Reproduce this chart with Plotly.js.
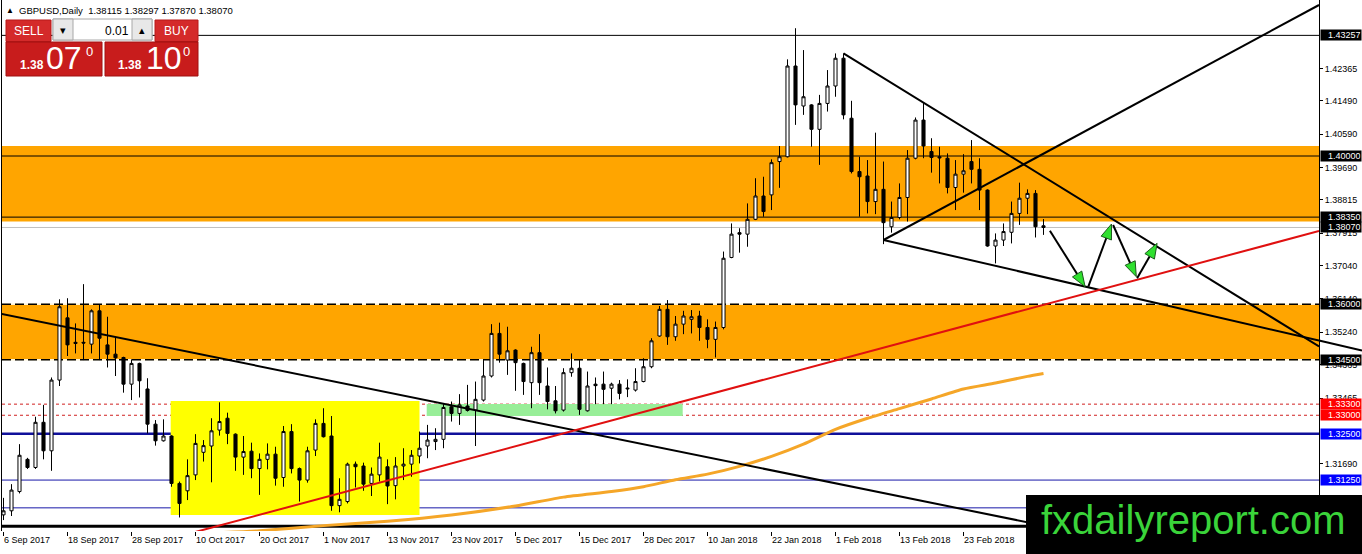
<!DOCTYPE html>
<html><head><meta charset="utf-8">
<script src="https://cdn.plot.ly/plotly-3.0.1.min.js"></script>
<style>html,body{margin:0;padding:0;background:#fff;overflow:hidden}#chart{width:1362px;height:554px}</style>
</head><body><div id="chart"></div>
<script>
// ---------- DATA ----------
const dates = [
"2017-09-06","2017-09-07","2017-09-08","2017-09-11","2017-09-12","2017-09-13","2017-09-14","2017-09-15","2017-09-18","2017-09-19",
"2017-09-20","2017-09-21","2017-09-22","2017-09-25","2017-09-26","2017-09-27","2017-09-28","2017-09-29","2017-10-02","2017-10-03",
"2017-10-04","2017-10-05","2017-10-06","2017-10-09","2017-10-10","2017-10-11","2017-10-12","2017-10-13","2017-10-16","2017-10-17",
"2017-10-18","2017-10-19","2017-10-20","2017-10-23","2017-10-24","2017-10-25","2017-10-26","2017-10-27","2017-10-30","2017-10-31",
"2017-11-01","2017-11-02","2017-11-03","2017-11-06","2017-11-07","2017-11-08","2017-11-09","2017-11-10","2017-11-13","2017-11-14",
"2017-11-15","2017-11-16","2017-11-17","2017-11-20","2017-11-21","2017-11-22","2017-11-23","2017-11-24","2017-11-27","2017-11-28",
"2017-11-29","2017-11-30","2017-12-01","2017-12-04","2017-12-05","2017-12-06","2017-12-07","2017-12-08","2017-12-11","2017-12-12",
"2017-12-13","2017-12-14","2017-12-15","2017-12-18","2017-12-19","2017-12-20","2017-12-21","2017-12-22","2017-12-26","2017-12-27",
"2017-12-28","2017-12-29","2018-01-02","2018-01-03","2018-01-04","2018-01-05","2018-01-08","2018-01-09","2018-01-10","2018-01-11",
"2018-01-12","2018-01-15","2018-01-16","2018-01-17","2018-01-18","2018-01-19","2018-01-22","2018-01-23","2018-01-24","2018-01-25",
"2018-01-26","2018-01-29","2018-01-30","2018-01-31","2018-02-01","2018-02-02","2018-02-05","2018-02-06","2018-02-07","2018-02-08",
"2018-02-09","2018-02-12","2018-02-13","2018-02-14","2018-02-15","2018-02-16","2018-02-19","2018-02-20","2018-02-21","2018-02-22",
"2018-02-23","2018-02-26","2018-02-27","2018-02-28","2018-03-01","2018-03-02","2018-03-05","2018-03-06","2018-03-07","2018-03-08",
"2018-03-09"];

const openP = [
1.3031,1.3042,1.3094,1.3181,1.3159,1.3281,1.3204,1.3395,1.3563,1.3497,
1.3497,1.3492,1.3582,1.3490,1.3465,1.3456,1.3384,1.3440,1.3371,1.3276,
1.3231,1.3244,1.3116,1.3096,1.3139,1.3200,1.3217,1.3260,1.3292,1.3249,
1.3187,1.3203,1.3156,1.3181,1.3195,1.3132,1.3256,1.3156,1.3125,1.3206,
1.3278,1.3244,1.3056,1.3067,1.3168,1.3163,1.3116,1.3139,1.3161,1.3110,
1.3163,1.3168,1.3190,1.3217,1.3229,1.3235,1.3323,1.3305,1.3325,1.3314,
1.3341,1.3406,1.3521,1.3449,1.3476,1.3440,1.3388,1.3469,1.3379,1.3339,
1.3314,1.3415,1.3427,1.3312,1.3384,1.3384,1.3373,1.3384,1.3371,1.3368,
1.3391,1.3431,1.3514,1.3586,1.3512,1.3546,1.3559,1.3568,1.3537,1.3505,
1.3537,1.3726,1.3793,1.3789,1.3829,1.3892,1.3895,1.3985,1.3998,1.4243,
1.4135,1.4138,1.4072,1.4142,1.4189,1.4264,1.4102,1.3958,1.3946,1.3877,
1.3910,1.3809,1.3834,1.3888,1.3994,1.4097,1.4012,1.3998,1.3994,1.3915,
1.3951,1.3985,1.3964,1.3908,1.3757,1.3773,1.3794,1.3845,1.3886,1.3899,
1.38115];
const highP = [
1.3077,1.3114,1.3222,1.3185,1.3296,1.3328,1.3402,1.3613,1.3616,1.3548,
1.3654,1.3586,1.3598,1.3566,1.3512,1.3458,1.3451,1.3442,1.3400,1.3287,
1.3289,1.3246,1.3121,1.3181,1.3249,1.3233,1.3292,1.3335,1.3307,1.3251,
1.3244,1.3226,1.3197,1.3224,1.3215,1.3271,1.3276,1.3159,1.3215,1.3289,
1.3319,1.3298,1.3130,1.3172,1.3175,1.3172,1.3159,1.3226,1.3181,1.3187,
1.3211,1.3206,1.3256,1.3274,1.3265,1.3330,1.3337,1.3357,1.3382,1.3391,
1.3449,1.3546,1.3550,1.3539,1.3478,1.3442,1.3485,1.3519,1.3429,1.3379,
1.3427,1.3467,1.3449,1.3418,1.3402,1.3418,1.3388,1.3395,1.3397,1.3427,
1.3454,1.3508,1.3595,1.3611,1.3568,1.3582,1.3584,1.3582,1.3559,1.3553,
1.3742,1.3818,1.3805,1.3872,1.3940,1.3944,1.3991,1.4027,1.4261,1.4345,
1.4286,1.4140,1.4165,1.4232,1.4277,1.4277,1.4149,1.3998,1.3989,1.4063,
1.3985,1.3877,1.3926,1.4016,1.4104,1.4144,1.4048,1.4025,1.4007,1.3989,
1.4005,1.4043,1.3994,1.3910,1.3791,1.3818,1.3877,1.3928,1.3910,1.3908,
1.38297];
const lowP = [
1.3017,1.3028,1.3089,1.3155,1.3155,1.3181,1.3150,1.3379,1.3460,1.3467,
1.3449,1.3467,1.3449,1.3429,1.3406,1.3361,1.3341,1.3348,1.3251,1.3218,
1.3229,1.3107,1.3024,1.3071,1.3125,1.3175,1.3119,1.3245,1.3222,1.3150,
1.3139,1.3130,1.3085,1.3154,1.3110,1.3107,1.3143,1.3067,1.3118,1.3190,
1.3240,1.3042,1.3038,1.3062,1.3105,1.3096,1.3082,1.3121,1.3060,1.3073,
1.3125,1.3134,1.3170,1.3184,1.3206,1.3211,1.3283,1.3274,1.3310,1.3217,
1.3337,1.3402,1.3442,1.3409,1.3366,1.3355,1.3319,1.3355,1.3316,1.3305,
1.3310,1.3404,1.3301,1.3310,1.3330,1.3330,1.3330,1.3343,1.3349,1.3364,
1.3389,1.3427,1.3512,1.3490,1.3501,1.3519,1.3521,1.3501,1.3481,1.3456,
1.3532,1.3724,1.3739,1.3755,1.3827,1.3836,1.3854,1.3914,1.3996,1.4084,
1.4111,1.4025,1.3976,1.4120,1.4160,1.4099,1.3953,1.3836,1.3845,1.3843,
1.3762,1.3793,1.3829,1.3823,1.3991,1.3994,1.3955,1.3926,1.3899,1.3854,
1.3901,1.3926,1.3854,1.3755,1.3710,1.3757,1.3764,1.3814,1.3843,1.3780,
1.37870];
const closeP = [
1.3042,1.3098,1.3192,1.3159,1.3281,1.3204,1.3395,1.3593,1.3490,1.3494,
1.3495,1.3582,1.3508,1.3465,1.3455,1.3384,1.3440,1.3393,1.3276,1.3231,
1.3244,1.3116,1.3062,1.3137,1.3224,1.3218,1.3258,1.3283,1.3251,1.3187,
1.3202,1.3156,1.3181,1.3195,1.3130,1.3256,1.3156,1.3125,1.3204,1.3278,
1.3242,1.3056,1.3073,1.3168,1.3161,1.3114,1.3141,1.3187,1.3109,1.3163,
1.3168,1.3192,1.3211,1.3233,1.3235,1.3321,1.3305,1.3328,1.3313,1.3343,
1.3406,1.3521,1.3465,1.3474,1.3442,1.3391,1.3469,1.3388,1.3337,1.3312,
1.3415,1.3427,1.3316,1.3379,1.3380,1.3370,1.3384,1.3359,1.3373,1.3391,
1.3431,1.3501,1.3586,1.3512,1.3546,1.3568,1.3566,1.3537,1.3505,1.3537,
1.3724,1.3789,1.3789,1.3829,1.3892,1.3850,1.3982,1.3998,1.4243,1.4138,
1.4160,1.4072,1.4142,1.4189,1.4264,1.4111,1.3958,1.3944,1.3877,1.3910,
1.3820,1.3834,1.3888,1.3994,1.4097,1.4027,1.3996,1.3995,1.3915,1.3951,
1.3960,1.3964,1.3908,1.3757,1.3773,1.3796,1.3845,1.3886,1.3899,1.3809,
1.38070];

// moving average (bar index, value)
const maIdx = [27,32,40,48,56,64,70,76,80,84,88,92,96,100,104,108,112,116,120,124,128,130];
const maVal = [1.2983,1.2988,1.3002,1.3014,1.3031,1.3055,1.3079,1.3094,1.3107,1.3126,1.3141,1.3162,1.3189,1.3222,1.3262,1.3292,1.3318,1.3344,1.3371,1.3387,1.3405,1.3413];

const xTickIdx = [0,8,16,24,32,40,48,56,64,72,80,88,96,104,112,120];
const xTickText = ["6 Sep 2017","18 Sep 2017","28 Sep 2017","10 Oct 2017","20 Oct 2017","1 Nov 2017","13 Nov 2017","23 Nov 2017","5 Dec 2017","15 Dec 2017","28 Dec 2017","10 Jan 2018","22 Jan 2018","1 Feb 2018","13 Feb 2018","23 Feb 2018"];
const yTicks = [1.42365,1.41490,1.40590,1.39690,1.38815,1.37915,1.37040,1.36140,1.35240,1.34365,1.33465,1.31690];

// price levels and their scale labels
const levelPrices = [1.43257,1.40000,1.38350,1.38070,1.36000,1.34500,1.33300,1.33000,1.32500,1.31250,1.30500,1.30000];
const labelPrices = [1.43257,1.40000,1.38350,1.38070,1.36000,1.34500,1.33300,1.33000,1.32500,1.31250];
const labelKinds  = ["k","k","k","k","k","k","r","r","b","b"];

// zones
const upperZone = [1.3823,1.4027];
const lowerZone = [1.3450,1.3600];
const yellowBox = {i:[20.9,52.0], p:[1.30307,1.33385]};
const greenBox  = {i:[52.9,84.9], p:[1.3298,1.33304]};

// trend lines: [i0,p0,i1,p1]
const trendLines = [
  [-0.4375,1.35745,140,1.29583],
  [105,1.42773,164.44,1.34857],
  [110,1.37732,164.44,1.44077],
  [110,1.37732,164.44,1.35016]
];
const redLine = [22.81,1.29781,164.44,1.37975];
const arrows = [
  [130.8,1.37983,135.2,1.36471],
  [135.6,1.36471,138.5,1.38164],
  [138.7,1.38137,141.6,1.36741],
  [141.7,1.36697,144.2,1.37642]
];
const header = "GBPUSD,Daily  1.38115 1.38297 1.37870 1.38070";

// ---------- GEOMETRY ----------
const L=2,T=0,W=1317,H=531;
const xRange=[-0.1875,164.4375], yRange=[1.29875,1.44212];
const pxX=i=>L+(i-xRange[0])/(xRange[1]-xRange[0])*W;
const pxY=p=>T+(yRange[1]-p)/(yRange[1]-yRange[0])*H;
const paX=px=>(px-L)/W;
const paY=py=>1-(py-T)/H;
const FONT="Liberation Sans, Arial, sans-serif";

const shapes=[];
const ann=[];

// zones (background)
shapes.push({type:'rect',xref:'paper',x0:0,x1:1,yref:'y',y0:upperZone[0],y1:upperZone[1],fillcolor:'#ffa500',line:{width:0},layer:'below'});
shapes.push({type:'rect',xref:'paper',x0:0,x1:1,yref:'y',y0:lowerZone[0],y1:lowerZone[1],fillcolor:'#ffa500',line:{width:0},layer:'below'});
shapes.push({type:'rect',xref:'x',x0:yellowBox.i[0],x1:yellowBox.i[1],yref:'y',y0:yellowBox.p[0],y1:yellowBox.p[1],fillcolor:'#ffff00',line:{width:0},layer:'below'});
shapes.push({type:'rect',xref:'x',x0:greenBox.i[0],x1:greenBox.i[1],yref:'y',y0:greenBox.p[0],y1:greenBox.p[1],fillcolor:'#98ee98',line:{width:0},layer:'below'});

// horizontal levels
const levelStyle = {
  "1.43257":{c:'#000',w:1},"1.4":{c:'#000',w:1},"1.3835":{c:'#000',w:1},"1.3807":{c:'#c0c0c0',w:1},
  "1.36":{c:'#000',w:1.5,d:'9px,4px',under:true},"1.345":{c:'#000',w:1.5,d:'9px,4px',under:true},
  "1.333":{c:'#d02020',w:1,d:'3px,3px'},"1.33":{c:'#d02020',w:1,d:'3px,3px'},
  "1.325":{c:'#10109a',w:2.5},"1.3125":{c:'#1818a8',w:1},"1.305":{c:'#1818a8',w:1},"1.3":{c:'#000',w:3}
};
levelPrices.forEach(p=>{
  const s=levelStyle[String(p)];
  if(s.under) shapes.push({type:'line',xref:'paper',x0:0,x1:1,yref:'y',y0:p,y1:p,line:{color:'#fff5d8',width:1.5},layer:'below'});
  shapes.push({type:'line',xref:'paper',x0:0,x1:1,yref:'y',y0:p,y1:p,line:{color:s.c,width:s.w,dash:s.d||'solid'},layer:'below'});
});

// trend lines
trendLines.forEach(t=>shapes.push({type:'line',xref:'x',yref:'y',x0:t[0],y0:t[1],x1:t[2],y1:t[3],line:{color:'#000',width:2},layer:'above'}));
shapes.push({type:'line',xref:'x',yref:'y',x0:redLine[0],y0:redLine[1],x1:redLine[2],y1:redLine[3],line:{color:'#e01010',width:2},layer:'above'});
// lower support line continues across the price scale
(function(){
  const t=trendLines[3];
  const x0=pxX(t[0]),y0=pxY(t[1]),x1=pxX(t[2]),y1=pxY(t[3]);
  const s=(y1-y0)/(x1-x0);
  shapes.push({type:'line',xref:'paper',yref:'paper',x0:paX(x1),y0:paY(y1),x1:paX(1362),y1:paY(y1+s*(1362-x1)),line:{color:'#000',width:2},layer:'above'});
})();

// arrows: black shaft, green head
arrows.forEach(a=>{
  const sx=pxX(a[0]),sy=pxY(a[1]),tx=pxX(a[2]),ty=pxY(a[3]);
  const len=Math.hypot(tx-sx,ty-sy),dx=(tx-sx)/len,dy=(ty-sy)/len;
  const hl=15,hw=5.5;
  const bx=tx-dx*hl,by=ty-dy*hl;
  shapes.push({type:'line',xref:'paper',yref:'paper',x0:paX(sx),y0:paY(sy),x1:paX(bx+dx*3),y1:paY(by+dy*3),line:{color:'#000',width:2},layer:'above'});
  const p1=[bx-dy*hw,by+dx*hw],p2=[bx+dy*hw,by-dx*hw];
  const path=`M ${paX(tx)} ${paY(ty)} L ${paX(p1[0])} ${paY(p1[1])} L ${paX(p2[0])} ${paY(p2[1])} Z`;
  shapes.push({type:'path',xref:'paper',yref:'paper',path:path,fillcolor:'#2fe02f',line:{color:'#1c5a1c',width:1},layer:'above'});
});

// price scale labels
const kindColor={k:'#000',r:'#ff0000',b:'#0000ff'};
labelPrices.forEach((p,k)=>{
  ann.push({xref:'paper',x:1,xanchor:'left',xshift:1,yref:'y',y:p,yanchor:'middle',text:p.toFixed(5),
    font:{family:FONT,size:9,color:'#fff'},bgcolor:kindColor[labelKinds[k]],width:39,height:9,align:'right',borderpad:0.5,showarrow:false});
});

// helpers for pixel-placed widgets
function prect(x0,y0,x1,y1,fill,lc,lw){shapes.push({type:'rect',xref:'paper',yref:'paper',x0:paX(x0),x1:paX(x1),y0:paY(y0),y1:paY(y1),fillcolor:fill,line:{color:lc||fill,width:lw===undefined?0:lw},layer:'above'});}
function ptext(txt,cx,cy,size,color,anchor,bold){ann.push({xref:'paper',yref:'paper',x:paX(cx),y:paY(cy),xanchor:anchor||'center',yanchor:'middle',text:bold?'<b>'+txt+'</b>':txt,font:{family:FONT,size:size,color:color},showarrow:false});}

// header
ptext('▲',10,11,8,'#000');
ptext(header,17,11,9.5,'#000','left');

// trade panel
prect(6,20,51,41.5,'#d42a2a','#b81818',1);
prect(53,19,152,40,'#ffffff','#a8a8a8',1);
prect(53,19,73,40,'#e8e8e8','#a8a8a8',1);
prect(132,19,152,40,'#e8e8e8','#a8a8a8',1);
prect(155,20,198,41.5,'#d42a2a','#b81818',1);
prect(6,42,102,76,'#c81c1c','#a01010',1);
prect(105,42,198,76,'#c81c1c','#a01010',1);
ptext('SELL',28.5,31,12,'#fff');
ptext('BUY',176.5,31,12,'#fff');
ptext('0.01',117,30.5,12,'#000');
ptext('▾',63,30,11,'#000');
ptext('▴',142,30,11,'#000');
ptext('1.38',32,65,12,'#fff','center',true);
ptext('07',64,58,32,'#fff');
ptext('0',89,51,13,'#fff');
ptext('1.38',130,65,12,'#fff','center',true);
ptext('10',163.5,58,32,'#fff');
ptext('0',186,51,13,'#fff');

// watermark
prect(1026,495,1362,554,'#000');
ptext('fxdailyreport.com',1193,520,40,'#3ad43a');

// ---------- TRACES ----------
const candle={
  type:'candlestick',x:dates,open:openP,high:highP,low:lowP,close:closeP,
  increasing:{line:{color:'#000',width:1},fillcolor:'#ffffff'},
  decreasing:{line:{color:'#000',width:1},fillcolor:'#000000'},
  whiskerwidth:0,hoverinfo:'none',showlegend:false
};
const ma={type:'scatter',mode:'lines',x:maIdx.map(i=>dates[i]),y:maVal,
  line:{color:'#f5a628',width:3,shape:'spline',smoothing:0.6},hoverinfo:'none',showlegend:false};

const layout={
  width:1362,height:554,margin:{l:L,r:1362-L-W,t:T,b:554-T-H,pad:0},
  paper_bgcolor:'#fff',plot_bgcolor:'#fff',showlegend:false,boxgap:0.45,
  font:{family:FONT,size:9,color:'#000'},
  xaxis:{type:'category',range:xRange,autorange:false,showgrid:false,zeroline:false,showline:false,
    tickvals:xTickIdx.map(i=>dates[i]),ticktext:xTickText,ticks:'outside',ticklen:4,tickcolor:'#000',tickwidth:1,
    ticklabelposition:'outside right',tickfont:{family:FONT,size:9,color:'#000'},rangeslider:{visible:false},fixedrange:true,automargin:false},
  yaxis:{side:'right',range:yRange,autorange:false,showgrid:false,zeroline:false,showline:true,mirror:true,linecolor:'#000',linewidth:1,
    tickvals:yTicks,ticktext:yTicks.map(v=>v.toFixed(5)),ticks:'outside',ticklen:3,tickcolor:'#000',
    tickfont:{family:FONT,size:9,color:'#000'},fixedrange:true,automargin:false},
  shapes:shapes,annotations:ann
};
Plotly.newPlot('chart',[candle,ma],layout,{displayModeBar:false,staticPlot:true});
</script>
</body></html>
